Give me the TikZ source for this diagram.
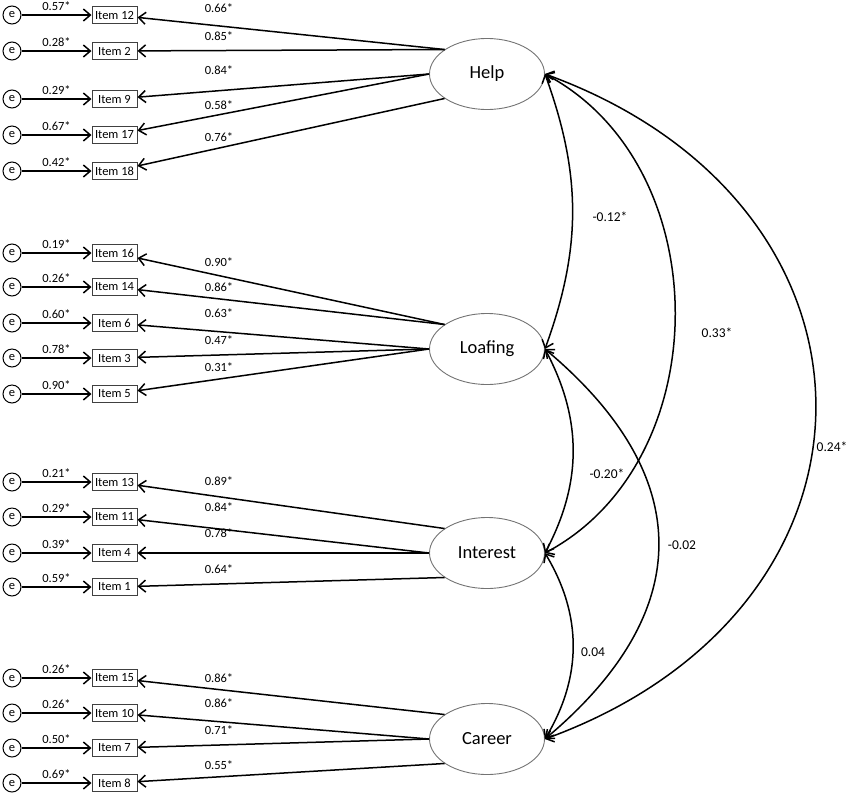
\documentclass[tikz,border=0pt]{standalone}
\usepackage{fontspec}
\setmainfont{Carlito}
\usetikzlibrary{
	arrows.meta,
	shapes.geometric
}
\tikzset{every path/.append style={line width=1.5pt}}
\tikzset{every path/.append style={>={Straight Barb[length=7pt,width=12pt]}}}
\tikzset{
	latent/.style={ellipse,draw=black!55,line width=0.9pt,minimum width=115pt,minimum height=71pt,font=\fontsize{18.5}{22}\selectfont},
	item/.style={rectangle,draw=black!75,line width=1pt,minimum width=45pt,minimum height=17pt,inner sep=1pt,font=\fontsize{12.5}{15}\selectfont},
	err/.style={circle,draw,line width=1pt,minimum size=18pt,inner sep=0pt,font=\fontsize{12.5}{15}\selectfont},
	lbl/.style={inner sep=0pt,font=\fontsize{12.5}{15}\selectfont},
	corr/.style={inner sep=0pt,font=\fontsize{13.5}{16}\selectfont}
}
% y, name, text, error variance
\newcommand{\tikzItem}[4]{%
	\node (e#2) at (12,#1) [err]{e};
	\node (#2) at (114.5,#1) [item]{#3};
	\draw[->] (e#2) -- node[lbl,above=4pt] (v#2) {#4} (#2);
}
% factor anchor, item, y of label, loading
\newcommand{\tikzLoad}[4]{%
	\draw[->] (#1) -- (#2);
	\node (w#2) at (219,#3) [lbl]{#4};
}

\begin{document}
\begin{tikzpicture}[x=1pt,y=1pt]
	\useasboundingbox (0,0) rectangle (851,-796);
	
	\node (help) at (487,-74) [latent]{Help};
	\node (loaf) at (487,-349) [latent]{Loafing};
	\node (inte) at (487,-553) [latent]{Interest};
	\node (care) at (487,-739) [latent]{Career};
	
	% items with error terms
	\tikzItem{-15}{i12}{Item 12}{0.57*}
	\tikzItem{-51}{i2}{Item 2}{0.28*}
	\tikzItem{-99}{i9}{Item 9}{0.29*}
	\tikzItem{-135}{i17}{Item 17}{0.67*}
	\tikzItem{-171}{i18}{Item 18}{0.42*}
	
	\tikzItem{-253}{i16}{Item 16}{0.19*}
	\tikzItem{-287}{i14}{Item 14}{0.26*}
	\tikzItem{-323}{i6}{Item 6}{0.60*}
	\tikzItem{-358}{i3}{Item 3}{0.78*}
	\tikzItem{-394}{i5}{Item 5}{0.90*}
	
	\tikzItem{-482}{i13}{Item 13}{0.21*}
	\tikzItem{-517}{i11}{Item 11}{0.29*}
	\tikzItem{-553}{i4}{Item 4}{0.39*}
	\tikzItem{-587}{i1}{Item 1}{0.59*}
	
	\tikzItem{-678}{i15}{Item 15}{0.26*}
	\tikzItem{-713}{i10}{Item 10}{0.26*}
	\tikzItem{-748}{i7}{Item 7}{0.50*}
	\tikzItem{-783}{i8}{Item 8}{0.69*}
	
	% loadings
	\tikzLoad{help.150}{i12}{-8}{0.66*}
	\tikzLoad{help.150}{i2}{-36}{0.85*}
	\tikzLoad{help.west}{i9}{-70}{0.84*}
	\tikzLoad{help.west}{i17}{-105}{0.58*}
	\tikzLoad{help.210}{i18}{-137}{0.76*}
	
	\tikzLoad{loaf.150}{i16}{-262}{0.90*}
	\tikzLoad{loaf.150}{i14}{-287}{0.86*}
	\tikzLoad{loaf.west}{i6}{-313}{0.63*}
	\tikzLoad{loaf.west}{i3}{-340}{0.47*}
	\tikzLoad{loaf.west}{i5}{-367}{0.31*}
	
	\tikzLoad{inte.150}{i13}{-481}{0.89*}
	\tikzLoad{inte.west}{i11}{-507}{0.84*}
	\tikzLoad{inte.west}{i4}{-533}{0.78*}
	\tikzLoad{inte.210}{i1}{-569}{0.64*}
	
	\tikzLoad{care.150}{i15}{-678}{0.86*}
	\tikzLoad{care.west}{i10}{-703}{0.86*}
	\tikzLoad{care.west}{i7}{-730}{0.71*}
	\tikzLoad{care.210}{i8}{-765}{0.55*}
	
	% correlations
	\draw[<->] (help.east) to[bend left=20] (loaf.east);
	\draw[<->] (help.east) to[out=-28,in=28,looseness=1.05] (inte.east);
	\draw[<->] (help.east) to[out=-20,in=20,looseness=1.48] (care.east);
	\draw[<->] (loaf.east) to[bend left=28] (inte.east);
	\draw[<->] (loaf.east) to[out=-40,in=40,looseness=1.3] (care.east);
	\draw[<->] (inte.east) to[bend left=31] (care.east);
	
	\node (c12) at (610,-217) [corr]{-0.12*};
	\node (c13) at (717,-333) [corr]{0.33*};
	\node (c14) at (832,-447) [corr]{0.24*};
	\node (c23) at (607,-474) [corr]{-0.20*};
	\node (c24) at (682,-545) [corr]{-0.02};
	\node (c34) at (593,-652) [corr]{0.04};
\end{tikzpicture}
\end{document}
